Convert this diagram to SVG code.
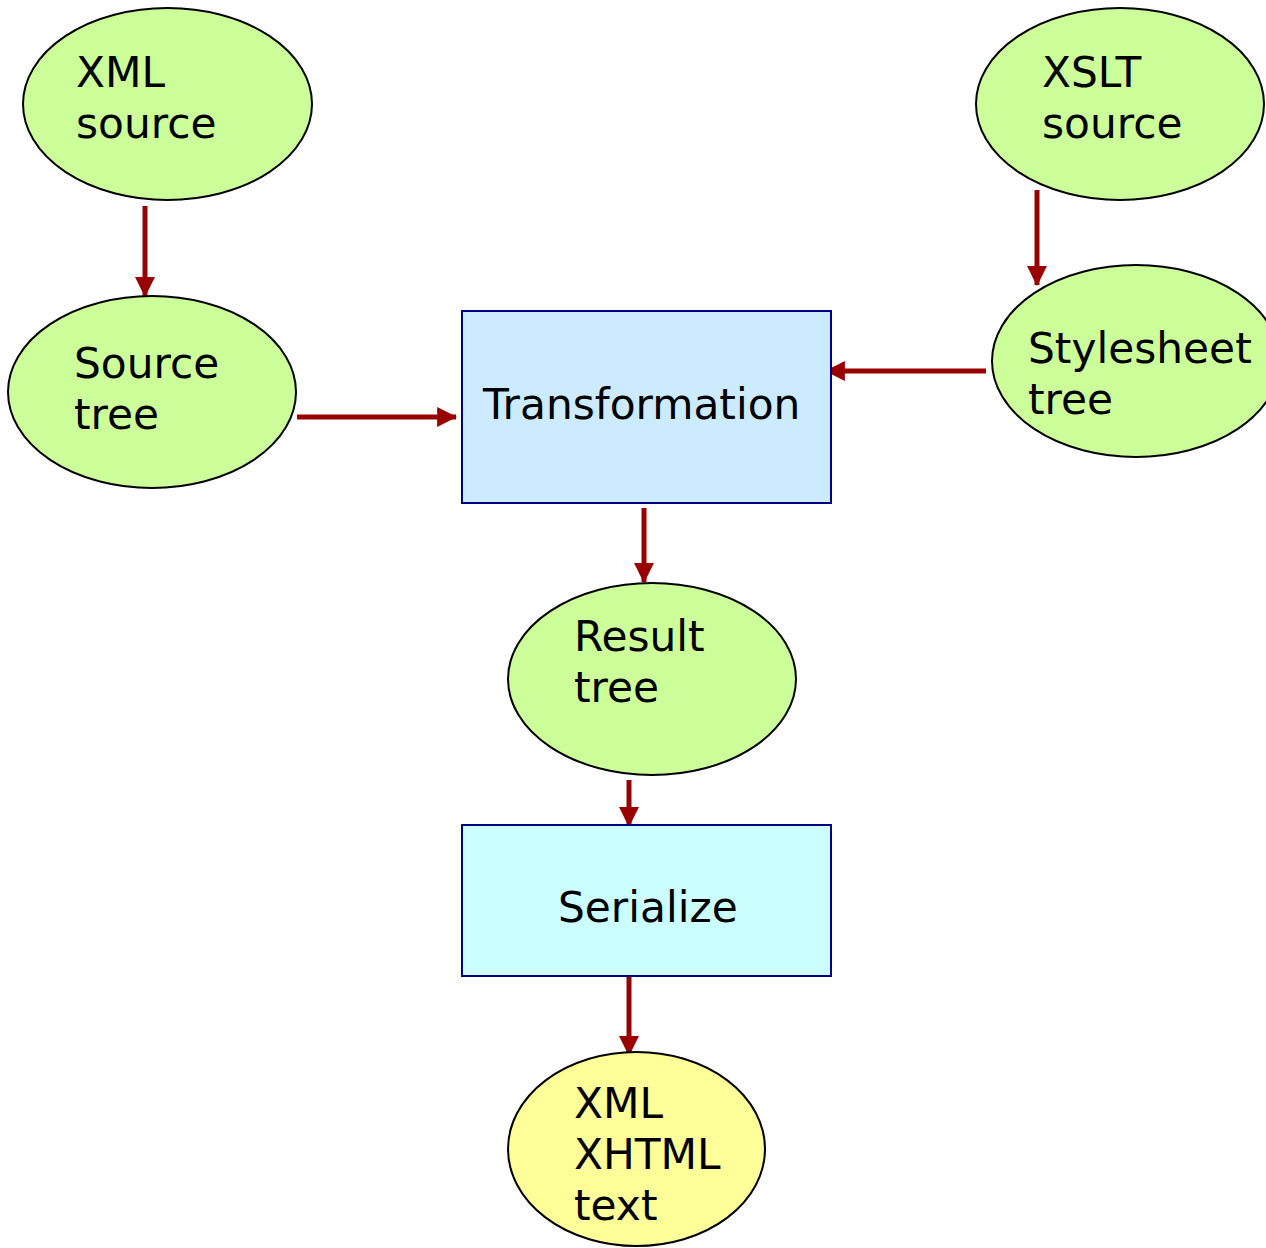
<svg xmlns="http://www.w3.org/2000/svg" width="1266" height="1248" viewBox="0 0 1266 1248">
<style>
.ell{fill:#CCFF99;stroke:#000;stroke-width:2}
.out{fill:#FFFF99;stroke:#000;stroke-width:2}
.box{stroke:#000080;stroke-width:2}
.t{font-family:"DejaVu Sans","Verdana",sans-serif;font-size:42.3px;fill:#000}
.c{stroke:#990000;stroke-width:5;fill:none;marker-end:url(#ah)}
</style>
<defs>
<marker id="ah" markerUnits="userSpaceOnUse" markerWidth="20" markerHeight="20" viewBox="0 0 18 18" refX="17" refY="9" orient="auto">
<path d="M0,0 L18,9 L0,18 Z" fill="#990000"/>
</marker>
</defs>
<g id="connectors">
<line class="c" x1="145" y1="206" x2="145" y2="296"/>
<line class="c" x1="1037" y1="190" x2="1037" y2="285"/>
<line class="c" x1="297" y1="417" x2="456" y2="417"/>
<line class="c" x1="986" y1="371" x2="826" y2="371"/>
<line class="c" x1="644" y1="508" x2="644" y2="582"/>
<line class="c" x1="629" y1="780" x2="629" y2="826"/>
<line class="c" x1="629" y1="977" x2="629" y2="1055"/>
</g>
<g id="xml-source">
<ellipse class="ell" cx="167.5" cy="104" rx="144.5" ry="96"/>
<text class="t" x="76" y="87">XML</text>
<text class="t" x="76" y="138">source</text>
</g>
<g id="xslt-source">
<ellipse class="ell" cx="1120" cy="104" rx="144" ry="96"/>
<text class="t" x="1042" y="87">XSLT</text>
<text class="t" x="1042" y="138">source</text>
</g>
<g id="source-tree">
<ellipse class="ell" cx="152" cy="392" rx="144" ry="96"/>
<text class="t" x="74" y="378">Source</text>
<text class="t" x="74" y="429">tree</text>
</g>
<g id="stylesheet-tree">
<ellipse class="ell" cx="1136" cy="361" rx="144" ry="96"/>
<text class="t" x="1028" y="363">Stylesheet</text>
<text class="t" x="1028" y="414">tree</text>
</g>
<g id="transformation">
<rect class="box" x="462" y="311" width="369" height="192" fill="#CCEBFF"/>
<text class="t" x="483" y="419">Transformation</text>
</g>
<g id="result-tree">
<ellipse class="ell" cx="652" cy="679" rx="144" ry="96"/>
<text class="t" x="574" y="651">Result</text>
<text class="t" x="574" y="702">tree</text>
</g>
<g id="serialize">
<rect class="box" x="462" y="825" width="369" height="151" fill="#CCFFFF"/>
<text class="t" x="558" y="922">Serialize</text>
</g>
<g id="output">
<ellipse class="out" cx="636.5" cy="1149" rx="128.5" ry="97"/>
<text class="t" x="574" y="1118">XML</text>
<text class="t" x="574" y="1169">XHTML</text>
<text class="t" x="574" y="1220">text</text>
</g>
</svg>
